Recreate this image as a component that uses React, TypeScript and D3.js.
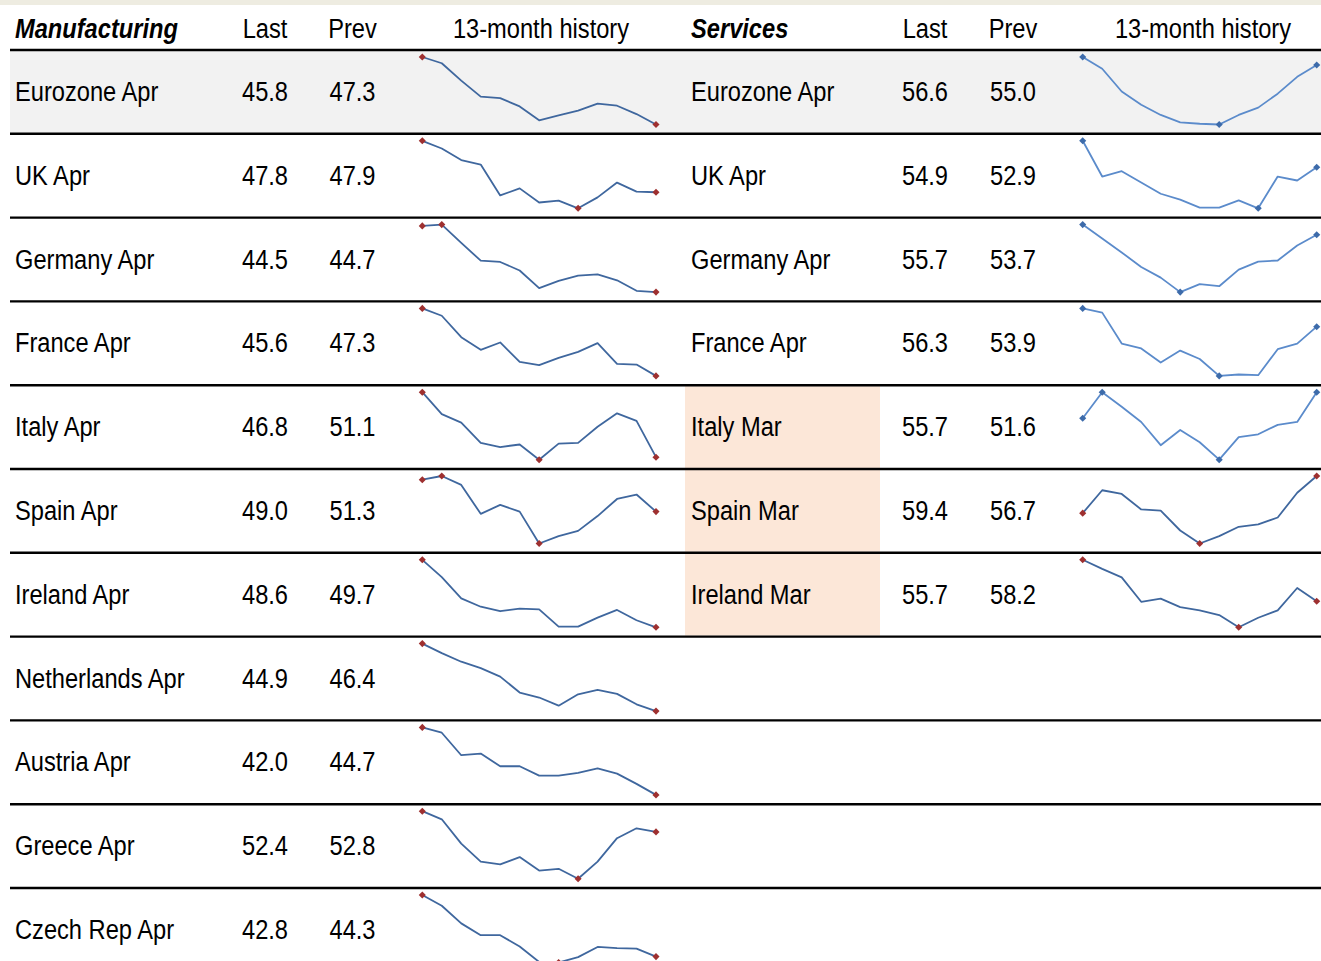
import React from 'react';
import * as d3 from 'd3';

// Manufacturing PMI
const mfgLabels = ["Eurozone Apr", "UK Apr", "Germany Apr", "France Apr", "Italy Apr", "Spain Apr", "Ireland Apr", "Netherlands Apr", "Austria Apr", "Greece Apr", "Czech Rep Apr"];
const mfgLast = [45.8, 47.8, 44.5, 45.6, 46.8, 49.0, 48.6, 44.9, 42.0, 52.4, 42.8];
const mfgPrev = [47.3, 47.9, 44.7, 47.3, 51.1, 51.3, 49.7, 46.4, 44.7, 52.8, 44.3];
const mfgHistory = [
    [55.5, 54.6, 52.1, 49.8, 49.6, 48.4, 46.4, 47.1, 47.8, 48.8, 48.5, 47.3, 45.8],
    [55.8, 54.6, 52.8, 52.1, 47.3, 48.4, 46.2, 46.5, 45.3, 47.0, 49.3, 47.9, 47.8],
    [54.6, 54.8, 52.0, 49.3, 49.1, 47.8, 45.1, 46.2, 47.0, 47.2, 46.3, 44.7, 44.5],
    [55.7, 54.6, 51.4, 49.5, 50.6, 47.7, 47.2, 48.3, 49.2, 50.5, 47.4, 47.3, 45.6],
    [54.5, 51.9, 50.9, 48.5, 48.0, 48.3, 46.5, 48.4, 48.5, 50.4, 52.0, 51.1, 46.8],
    [53.3, 53.8, 52.6, 48.7, 49.9, 49.0, 44.7, 45.7, 46.4, 48.4, 50.7, 51.3, 49.0],
    [59.1, 56.4, 53.1, 51.8, 51.1, 51.5, 51.4, 48.7, 48.7, 50.1, 51.3, 49.7, 48.6],
    [59.8, 57.7, 55.8, 54.4, 52.5, 49.0, 47.9, 46.1, 48.6, 49.6, 48.7, 46.4, 44.9],
    [58.5, 57.2, 51.7, 52.1, 49.0, 49.0, 46.7, 46.7, 47.4, 48.5, 47.2, 44.7, 42.0],
    [54.7, 53.8, 51.1, 49.1, 48.8, 49.6, 48.1, 48.3, 47.2, 49.1, 51.7, 52.8, 52.4],
    [54.3, 52.3, 49.0, 46.8, 46.8, 44.7, 41.8, 41.7, 42.7, 44.6, 44.4, 44.3, 42.8],
];

// Services PMI
const svcLabels = ["Eurozone Apr", "UK Apr", "Germany Apr", "France Apr", "Italy Mar", "Spain Mar", "Ireland Mar"];
const svcLast = [56.6, 54.9, 55.7, 56.3, 55.7, 59.4, 55.7];
const svcPrev = [55.0, 52.9, 53.7, 53.9, 51.6, 56.7, 58.2];
const svcHistory = [
    [57.7, 56.1, 53.0, 51.2, 49.8, 48.8, 48.6, 48.5, 49.8, 50.8, 52.7, 55.0, 56.6],
    [58.9, 53.5, 54.3, 52.6, 50.9, 50.0, 48.8, 48.8, 49.9, 48.7, 53.5, 52.9, 54.9],
    [57.6, 55.0, 52.4, 49.7, 47.7, 45.0, 46.5, 46.1, 49.2, 50.7, 50.9, 53.7, 55.7],
    [58.9, 58.3, 53.9, 53.2, 51.2, 52.9, 51.7, 49.3, 49.5, 49.4, 53.1, 53.9, 56.3],
    [52.1, 55.7, 53.7, 51.6, 48.4, 50.5, 48.8, 46.4, 49.5, 49.9, 51.2, 51.6, 55.7],
    [53.4, 57.1, 56.5, 54.0, 53.8, 50.6, 48.5, 49.7, 51.2, 51.6, 52.7, 56.7, 59.4],
    [63.5, 61.8, 60.2, 55.6, 56.2, 54.6, 54.0, 53.1, 50.8, 52.6, 54.0, 58.2, 55.7],
];

const latestMonth = "Apr";
const darkSvc = new Set(["Spain Mar", "Ireland Mar"]);

const W = 1321;
const H = 961;
// no narrow face installed: squeeze Liberation Sans horizontally
const FONT = "'Liberation Sans', Arial, sans-serif";
const NARROW = 0.845;
const RED = "#9E3030";
const BLUE_DARK = "#3F679E";
const BLUE_LIGHT = "#5B8BCB";
const BLUE_MARK = "#3D6BAA";

const tableLeft = 10;
const rowY = d3.scaleLinear().domain([0, 1]).range([50, 50 + 83.8]);

type TProps = { x: number; y: number; anchor?: "start" | "middle" | "end"; bold?: boolean; children: React.ReactNode };
const T: React.FC<TProps> = ({ x, y, anchor = "start", bold, children }) => (
    <text
        transform={`translate(${x},${y}) scale(${NARROW},1)`}
        fontFamily={FONT}
        fontSize={28}
        fill="#000"
        textAnchor={anchor}
        fontWeight={bold ? "bold" : "normal"}
        fontStyle={bold ? "italic" : "normal"}
    >
        {children}
    </text>
);

const Sparkline: React.FC<{ values: number[]; x0: number; x1: number; top: number; line: string; marker: string }> = ({ values, x0, x1, top, line, marker }) => {
    const x = d3.scaleLinear().domain([0, values.length - 1]).range([x0, x1]);
    const [lo, hi] = d3.extent(values) as [number, number];
    const y = d3.scaleLinear().domain([lo, hi]).range([top + 74.5, top + 7]);
    const path = d3.line<number>().x((_, i) => x(i)).y(d => y(d))(values) || "";
    const marked = values
        .map((v, i) => ({ v, i }))
        .filter(p => p.i === 0 || p.i === values.length - 1 || p.v === lo || p.v === hi);
    const diamond = d3.symbol().type(d3.symbolDiamond2).size(32)() || "";
    return (
        <g>
            <path d={path} fill="none" stroke={line} strokeWidth={1.8} strokeLinejoin="round" />
            {marked.map(p => (
                <path key={p.i} d={diamond} transform={`translate(${x(p.i)},${y(p.v)})`} fill={marker} />
            ))}
        </g>
    );
};

const App: React.FC = () => {
    const nRows = mfgLabels.length;
    const base = 51;
    return (
        <svg width={W} height={H} style={{ position: "absolute", left: 0, top: 0, background: "#fff" }}>
            <rect x={0} y={0} width={W} height={5} fill="#EEECE1" />
            {/* first row shading */}
            <rect x={tableLeft} y={rowY(0)} width={W - tableLeft} height={rowY(1) - rowY(0)} fill="#F2F2F2" />
            {/* lagged-month services shading */}
            {svcLabels.map((l, i) => !l.endsWith(latestMonth) && (
                <rect key={l} x={685} y={rowY(i) + 1} width={195} height={rowY(i + 1) - rowY(i) - 2} fill="#FCE7D8" />
            ))}

            {/* header */}
            <T x={15} y={38} bold>Manufacturing</T>
            <T x={265} y={38} anchor="middle">Last</T>
            <T x={352.5} y={38} anchor="middle">Prev</T>
            <T x={541} y={38} anchor="middle">13-month history</T>
            <T x={691} y={38} bold>Services</T>
            <T x={925} y={38} anchor="middle">Last</T>
            <T x={1013} y={38} anchor="middle">Prev</T>
            <T x={1203} y={38} anchor="middle">13-month history</T>

            {mfgLabels.map((label, i) => (
                <g key={label}>
                    <T x={15} y={rowY(i) + base}>{label}</T>
                    <T x={265} y={rowY(i) + base} anchor="middle">{mfgLast[i].toFixed(1)}</T>
                    <T x={352.5} y={rowY(i) + base} anchor="middle">{mfgPrev[i].toFixed(1)}</T>
                    <Sparkline values={mfgHistory[i]} x0={422.3} x1={656} top={rowY(i)} line={BLUE_DARK} marker={RED} />
                </g>
            ))}

            {svcLabels.map((label, i) => {
                const dark = darkSvc.has(label);
                return (
                    <g key={label}>
                        <T x={691} y={rowY(i) + base}>{label}</T>
                        <T x={925} y={rowY(i) + base} anchor="middle">{svcLast[i].toFixed(1)}</T>
                        <T x={1013} y={rowY(i) + base} anchor="middle">{svcPrev[i].toFixed(1)}</T>
                        <Sparkline values={svcHistory[i]} x0={1082.7} x1={1316.7} top={rowY(i)} line={dark ? BLUE_DARK : BLUE_LIGHT} marker={dark ? RED : BLUE_MARK} />
                    </g>
                );
            })}

            {/* row separators */}
            {d3.range(nRows).map(i => (
                <line key={i} x1={tableLeft} x2={W} y1={rowY(i)} y2={rowY(i)} stroke="#000" strokeWidth={2.4} />
            ))}
        </svg>
    );
};

export default App;
